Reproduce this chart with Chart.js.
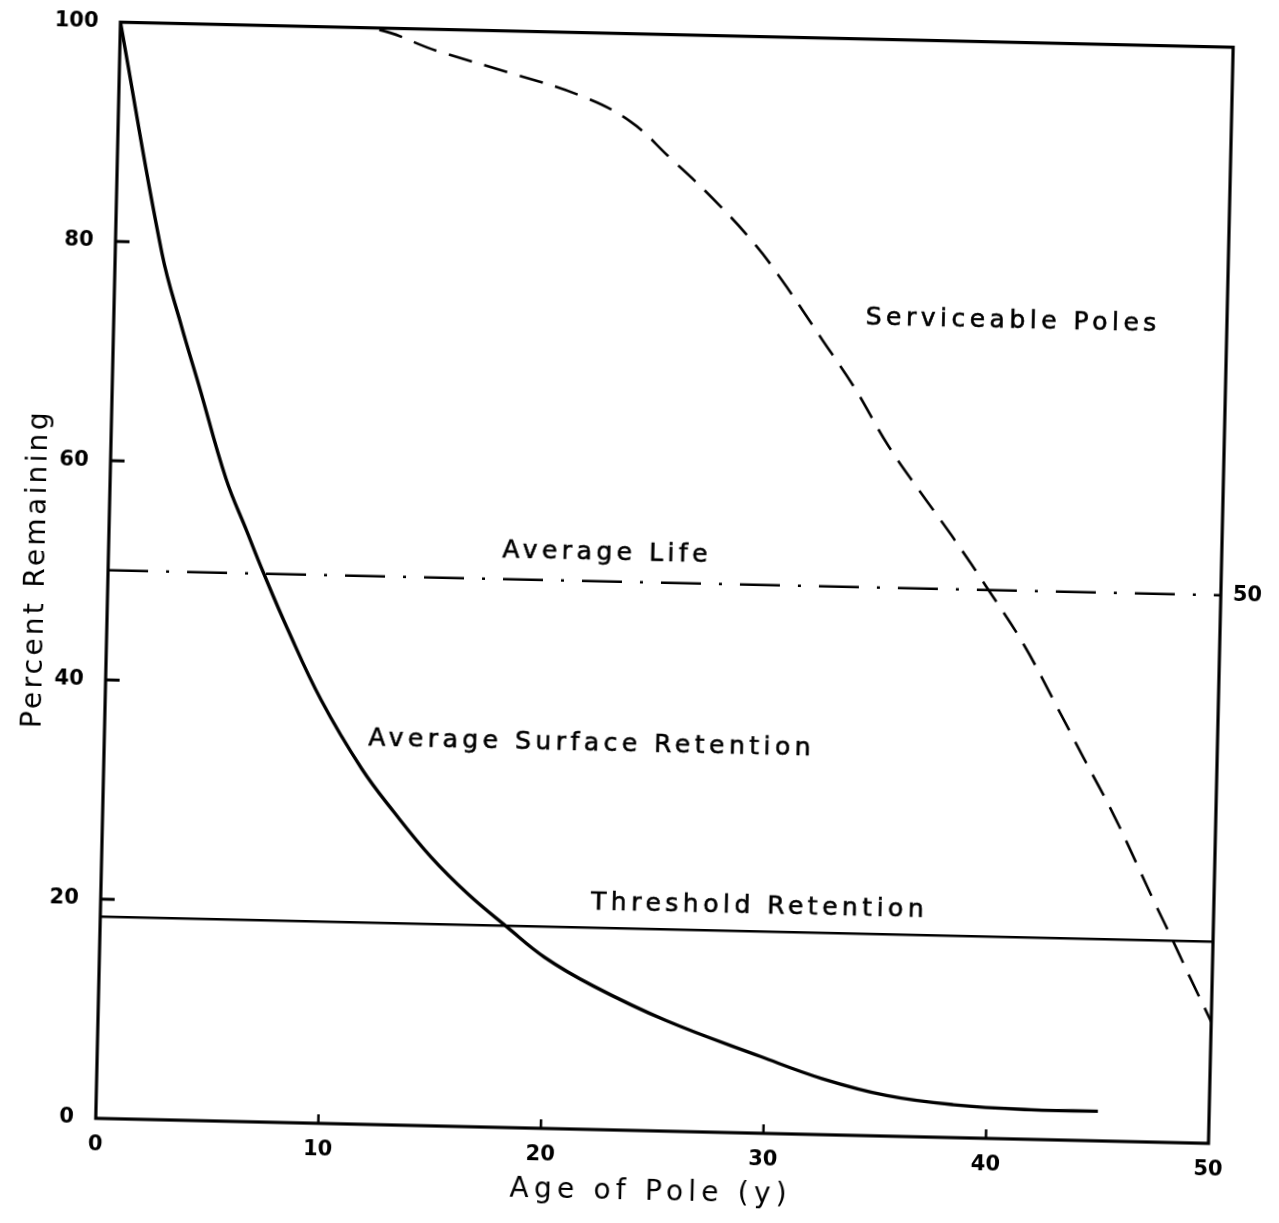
<!DOCTYPE html>
<html>
<head>
<meta charset="utf-8">
<script src="https://cdn.jsdelivr.net/npm/chart.js@4.4.1/dist/chart.umd.min.js"></script>
<style>
html,body{margin:0;padding:0;background:#fff;overflow:hidden;width:1279px;height:1223px}
#wrap{position:absolute;left:0;top:0;width:1279px;height:1223px;transform-origin:664.5px 581px;transform:rotate(1.29deg)}
canvas{display:block}
</style>
</head>
<body>
<div id="wrap"><canvas id="c" width="1279" height="1223"></canvas></div>
<script>
// ---- data ----
const surfaceAge = [0, 2.1, 3.05, 3.9, 5.2, 6.2, 7.0, 8.1, 9.7, 11.6, 13.1, 14.8, 16.5, 18.3, 20.0, 22.2, 25.5, 29.8, 32.6, 35.5, 38.5, 42.0, 45.0];
const surfacePct = [100, 79, 72.4, 67, 58.6, 53.8, 50, 45.1, 38.6, 32.4, 28.5, 24.5, 21.2, 18.25, 15.6, 13.1, 10.1, 7.0, 5.1, 3.7, 3.0, 2.7, 2.7];

const serviceAge = [0, 11, 14.3, 17.5, 20.8, 23.0, 24.8, 26.7, 28.7, 30.2, 31.8, 33.3, 34.9, 36.4, 37.85, 39.6, 41.2, 42.7, 44.0, 45.4, 46.65, 47.3, 48.2, 49.0, 50];
const servicePct = [100, 100, 98.0, 96.2, 94.2, 92.0, 88.8, 85.3, 81.1, 77.2, 72.6, 68.3, 63.0, 58.8, 54.9, 49.9, 45.1, 39.7, 34.9, 29.8, 24.7, 22.0, 18.4, 15.1, 11.1];

const thresholdAge = [0, 50];
const thresholdPct = [18.4, 18.4];

const lifeAge = [0, 50];
const lifePct = [50, 50];

const xTicks = [0, 10, 20, 30, 40, 50];
const yTicks = [0, 20, 40, 60, 80, 100];
const rightTicks = [50];

const curveLabels = ['Serviceable Poles', 'Average Life', 'Average Surface Retention', 'Threshold Retention'];
const curveLabelAge = [40.4, 22.4, 21.9, 29.6];
const curveLabelPct = [74.6, 52.6, 35.2, 20.65];

const xTitle = 'Age of Pole (y)';
const yTitle = 'Percent Remaining';

// ---- helpers ----
const FONT = '"DejaVu Sans", sans-serif';
const toPts = (xs, ys) => xs.map((x, i) => ({x: x, y: ys[i]}));

function spacedTitle(scale, spacing) {
  if (scale._spacedPatched) return;
  scale._spacedPatched = true;
  const orig = scale.drawTitle;
  scale.drawTitle = function () {
    const ctx = this.ctx;
    ctx.save();
    ctx.letterSpacing = spacing;
    orig.call(this);
    ctx.restore();
  };
}

const framePlugin = {
  id: 'frame',
  afterDatasetsDraw(chart) {
    const {ctx, chartArea: a, scales} = chart;
    ctx.save();
    ctx.strokeStyle = '#000';
    ctx.lineWidth = 3.2;
    ctx.lineJoin = 'miter';
    ctx.strokeRect(a.left, a.top, a.right - a.left, a.bottom - a.top);
    // inward ticks on the left axis
    ctx.lineWidth = 3;
    yTicks.forEach(v => {
      if (v === 0 || v === 100) return;
      const y = scales.y.getPixelForValue(v);
      ctx.beginPath(); ctx.moveTo(a.left, y); ctx.lineTo(a.left + 14, y); ctx.stroke();
    });
    // inward ticks on the bottom axis
    ctx.lineWidth = 2.5;
    xTicks.forEach(v => {
      if (v === 0 || v === 50) return;
      const x = scales.x.getPixelForValue(v);
      ctx.beginPath(); ctx.moveTo(x, a.bottom); ctx.lineTo(x, a.bottom - 9); ctx.stroke();
    });
    // curve labels
    ctx.fillStyle = '#000';
    ctx.font = '25px ' + FONT;
    ctx.letterSpacing = '4.5px';
    ctx.textAlign = 'center';
    ctx.textBaseline = 'middle';
    curveLabels.forEach((t, i) => {
      const px = scales.x.getPixelForValue(curveLabelAge[i]);
      const py = scales.y.getPixelForValue(curveLabelPct[i]);
      ctx.fillText(t, px, py);
      ctx.lineWidth = 0.6;
      ctx.strokeText(t, px, py);
    });
    ctx.restore();
  }
};

new Chart(document.getElementById('c'), {
  type: 'line',
  data: {
    datasets: [
      {
        label: 'Average Surface Retention',
        data: toPts(surfaceAge, surfacePct),
        borderColor: '#000', borderWidth: 3.4, pointRadius: 0,
        tension: 0.4, fill: false
      },
      {
        label: 'Serviceable Poles',
        data: toPts(serviceAge, servicePct),
        borderColor: '#000', borderWidth: 2.6, pointRadius: 0,
        borderDash: [24, 13], tension: 0.4, fill: false
      },
      {
        label: 'Threshold Retention',
        data: toPts(thresholdAge, thresholdPct),
        borderColor: '#000', borderWidth: 2.6, pointRadius: 0, fill: false
      },
      {
        label: 'Average Life',
        data: toPts(lifeAge, lifePct),
        borderColor: '#000', borderWidth: 2.6, pointRadius: 0,
        borderDash: [40, 18, 3, 18], fill: false
      }
    ]
  },
  options: {
    responsive: false,
    animation: false,
    events: [],
    devicePixelRatio: 1,
    layout: {padding: {left: 0, right: 0, top: 31, bottom: 0}},
    plugins: {legend: {display: false}, tooltip: {enabled: false}},
    scales: {
      x: {
        type: 'linear', min: 0, max: 50,
        afterBuildTicks: s => { s.ticks = xTicks.map(v => ({value: v})); },
        afterFit: s => { s.height = 92; spacedTitle(s, '5.2px'); },
        grid: {display: false, drawTicks: false},
        border: {display: false},
        ticks: {color: '#000', font: {family: FONT, size: 21, weight: 'bold'}, padding: 14, maxRotation: 0, autoSkip: false},
        title: {display: true, text: xTitle, color: '#000', font: {family: FONT, size: 28}, padding: {top: 0, bottom: 13}}
      },
      y: {
        type: 'linear', min: 0, max: 100, position: 'left',
        afterBuildTicks: s => { s.ticks = yTicks.map(v => ({value: v})); },
        afterFit: s => { s.width = 108; spacedTitle(s, '3.3px'); },
        grid: {display: false, drawTicks: false},
        border: {display: false},
        ticks: {color: '#000', font: {family: FONT, size: 21, weight: 'bold'}, padding: 22, autoSkip: false},
        title: {display: true, text: yTitle, color: '#000', font: {family: FONT, size: 28}, padding: {top: 20, bottom: 0}}
      },
      y2: {
        type: 'linear', min: 0, max: 100, position: 'right',
        afterBuildTicks: s => { s.ticks = rightTicks.map(v => ({value: v})); },
        afterFit: s => { s.width = 58; },
        grid: {display: false, drawTicks: false},
        border: {display: false},
        ticks: {color: '#000', font: {family: FONT, size: 21, weight: 'bold'}, padding: 12, autoSkip: false}
      }
    }
  },
  plugins: [framePlugin]
});
</script>
</body>
</html>
